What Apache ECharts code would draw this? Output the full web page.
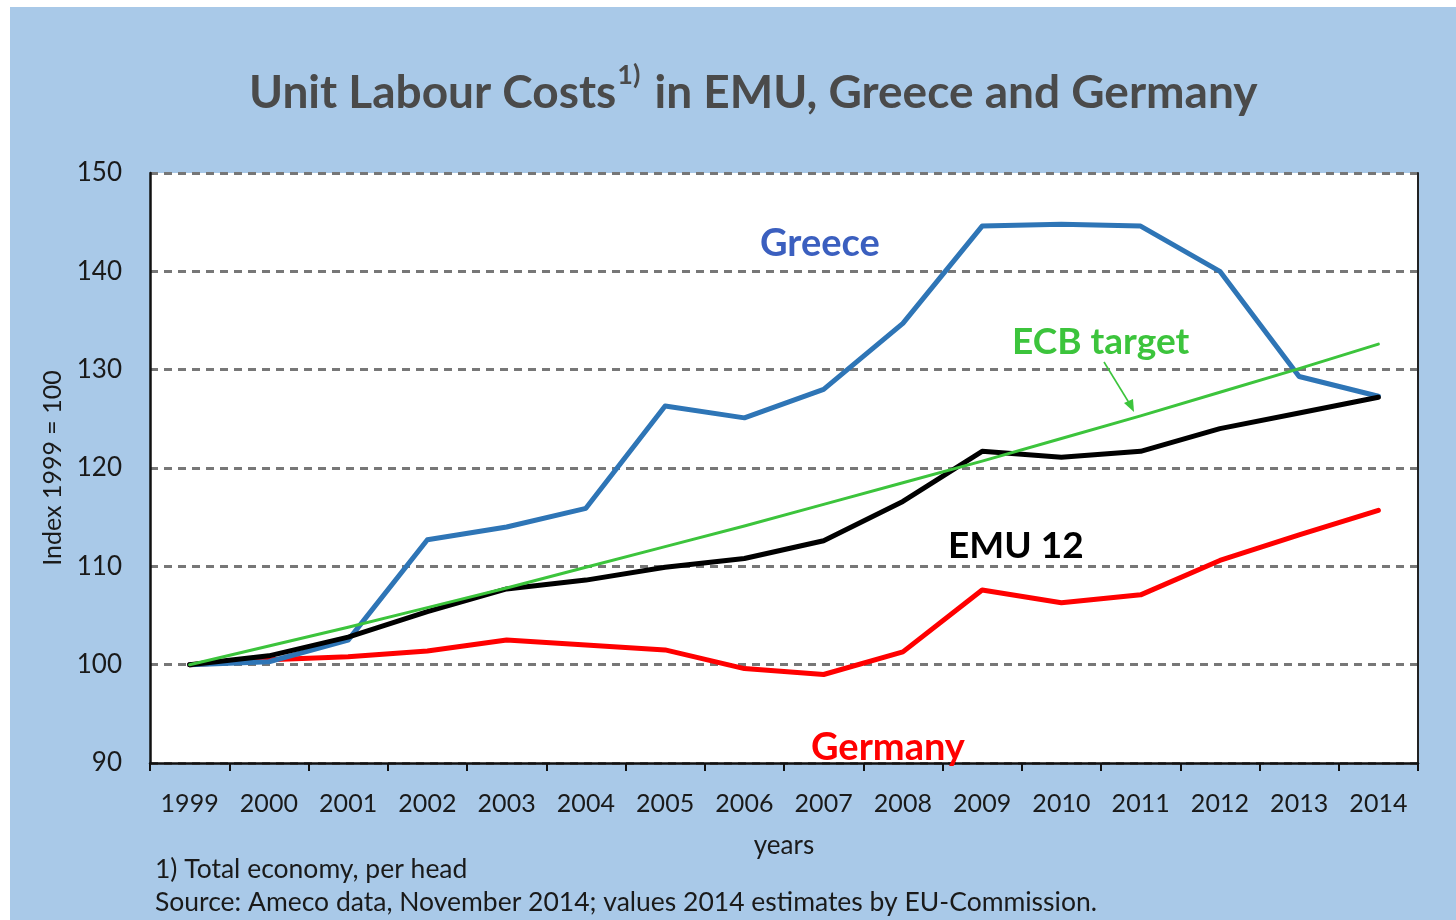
<!DOCTYPE html>
<html>
<head>
<meta charset="utf-8">
<script src="https://cdn.jsdelivr.net/npm/echarts@6/dist/echarts.min.js"></script>
<style>
  html, body { margin: 0; padding: 0; background: #ffffff; }
  #chart { width: 1456px; height: 920px; }
</style>
</head>
<body>
<div id="chart"></div>
<script>
// Unit labour cost indices, 1999 = 100
const years = ['1999', '2000', '2001', '2002', '2003', '2004', '2005', '2006',
               '2007', '2008', '2009', '2010', '2011', '2012', '2013', '2014'];
const greece    = [100, 100.3, 102.5, 112.7, 114.0, 115.9, 126.3, 125.1, 128.0, 134.7, 144.6, 144.8, 144.6, 140.0, 129.3, 127.3];
const emu12     = [100, 100.9, 102.8, 105.4, 107.7, 108.6, 109.9, 110.8, 112.6, 116.6, 121.7, 121.1, 121.7, 124.0, 125.6, 127.2];
const germany   = [100, 100.5, 100.8, 101.4, 102.5, 102.0, 101.5, 99.6, 99.0, 101.3, 107.6, 106.3, 107.1, 110.6, 113.2, 115.7];
const ecbTarget = [100, 101.9, 103.8, 105.8, 107.8, 109.9, 112.0, 114.1, 116.3, 118.5, 120.7, 123.0, 125.3, 127.7, 130.1, 132.6];

const yMin = 90, yMax = 150, yStep = 10;

const FONT = 'Lato, "Open Sans", sans-serif';
const BG = '#a9c9e8';

const chart = echarts.init(document.getElementById('chart'));

function line(name, data, color, width, z) {
  return {
    name, type: 'line', data, z,
    symbol: 'none', smooth: false,
    lineStyle: { color, width, cap: 'round', join: 'round' },
    emphasis: { disabled: true }
  };
}

chart.setOption({
  backgroundColor: '#ffffff',
  animation: false,
  title: {
    left: 244, top: 57,
    text: '{a|Unit Labour Costs}{s|1)}{a| in EMU, Greece and Germany}',
    textStyle: {
      rich: {
        a: { fontFamily: FONT, fontWeight: 'bold', fontSize: 46, color: '#4a4a4a', lineHeight: 54, verticalAlign: 'bottom' },
        s: { fontFamily: FONT, fontWeight: 'bold', fontSize: 27, color: '#4a4a4a', lineHeight: 54, verticalAlign: 'top', padding: [0, 3, 0, 1] }
      }
    }
  },
  grid: {
    left: 150, right: 38, top: 173, bottom: 157,
    show: true, backgroundColor: '#ffffff', borderWidth: 0
  },
  xAxis: {
    type: 'category', data: years, boundaryGap: true,
    name: 'years', nameLocation: 'middle', nameGap: 70,
    nameTextStyle: { fontFamily: FONT, fontSize: 26, color: '#1a1a1a' },
    axisLine: { show: true, onZero: false, lineStyle: { color: '#111', width: 2.5 } },
    axisTick: { show: true, interval: 0, length: 8, lineStyle: { color: '#111', width: 2 } },
    axisLabel: { interval: 0, margin: 28, fontFamily: FONT, fontSize: 25, color: '#1a1a1a' },
    splitLine: { show: false }
  },
  yAxis: [{
    type: 'value', min: yMin, max: yMax, interval: yStep,
    name: 'Index 1999 = 100', nameLocation: 'middle', nameGap: 80, nameRotate: 90,
    nameTextStyle: { fontFamily: FONT, fontSize: 25, color: '#1a1a1a' },
    axisLine: { show: true, lineStyle: { color: '#111', width: 2.5 } },
    axisTick: { show: false },
    axisLabel: { margin: 28, fontFamily: FONT, fontSize: 26, color: '#1a1a1a' },
    splitLine: { show: true, lineStyle: { color: '#777777', width: 3, type: [8, 6] } }
  }, {
    type: 'value', min: yMin, max: yMax, interval: yStep, position: 'right',
    axisLine: { show: true, lineStyle: { color: '#222', width: 2 } },
    axisTick: { show: false }, axisLabel: { show: false }, splitLine: { show: false }
  }],
  series: [
    line('Germany', germany, '#ff0000', 5, 2),
    line('Greece', greece, '#2e75b6', 5, 3),
    line('EMU 12', emu12, '#000000', 5, 4),
    line('ECB target', ecbTarget, '#3cc43c', 3, 5)
  ],
  graphic: [
    { type: 'rect', z: -10, silent: true, shape: { x: 10, y: 7, width: 1446, height: 913 }, style: { fill: BG } },
    { type: 'text', z: 100, left: 760, top: 225, style: { text: 'Greece', font: 'bold 38px ' + FONT, fill: '#3b5fbf' } },
    { type: 'text', z: 100, left: 1012, top: 324, style: { text: 'ECB target', font: 'bold 37px ' + FONT, fill: '#3cc43c' } },
    { type: 'text', z: 100, left: 948, top: 528, style: { text: 'EMU 12', font: 'bold 37px ' + FONT, fill: '#000000' } },
    { type: 'text', z: 100, left: 811, top: 729, style: { text: 'Germany', font: 'bold 38px ' + FONT, fill: '#ff0000' } },
    { type: 'line', z: 100, shape: { x1: 1104, y1: 362, x2: 1131, y2: 406 }, style: { stroke: '#3cc43c', lineWidth: 1.6 } },
    { type: 'polygon', z: 100, shape: { points: [[1134, 412], [1124, 403], [1133, 399]] }, style: { fill: '#3cc43c' } },
    { type: 'text', z: 100, left: 155, top: 856, style: { text: '1) Total economy, per head', font: '26.5px ' + FONT, fill: '#1a1a1a' } },
    { type: 'text', z: 100, left: 155, top: 889, style: { text: 'Source: Ameco data, November 2014; values 2014 estimates by EU-Commission.', font: '26.5px ' + FONT, fill: '#1a1a1a' } }
  ]
});
</script>
</body>
</html>
